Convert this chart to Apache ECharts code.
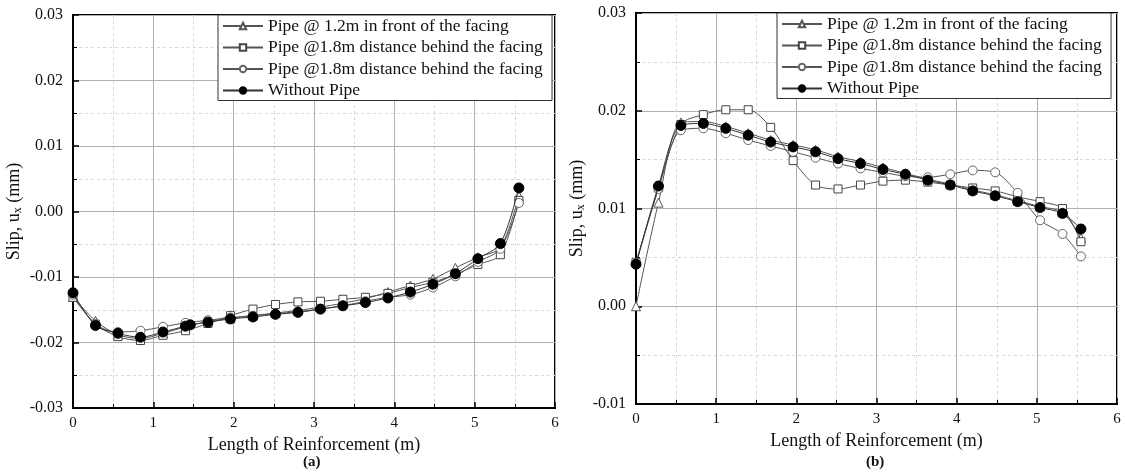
<!DOCTYPE html>
<html>
<head>
<meta charset="utf-8">
<script src="https://cdn.jsdelivr.net/npm/echarts@6/dist/echarts.min.js"></script>
<style>
  html, body { margin: 0; padding: 0; background: #fff; }
  #chart { width: 1125px; height: 473px; }
</style>
</head>
<body>
<div id="chart"></div>
<script>
// Slip along the reinforcement, (a) and (b) panels
const seriesNames = [
  'Pipe @ 1.2m in front of the facing',
  'Pipe @1.8m distance behind the facing',
  'Pipe @1.8m distance behind the facing ',
  'Without Pipe'
];

// distance along reinforcement (m)
const xPos = [0, 0.28, 0.56, 0.84, 1.12, 1.40, 1.68, 1.96, 2.24, 2.52, 2.80, 3.08, 3.36, 3.64, 3.92, 4.20, 4.48, 4.76, 5.04, 5.32, 5.55];
const xPosNoPipeA = [0, 0.28, 0.56, 0.84, 1.12, 1.40, 1.46, 1.68, 1.96, 2.24, 2.52, 2.80, 3.08, 3.36, 3.64, 3.92, 4.20, 4.48, 4.76, 5.04, 5.32, 5.55];

// panel (a) slip (mm)
const aFront12 = [-0.0130, -0.0167, -0.0188, -0.0194, -0.0186, -0.0176, -0.0168, -0.0163, -0.0159, -0.0155, -0.0151, -0.0146, -0.0140, -0.0133, -0.0123, -0.0113, -0.0103, -0.0086, -0.0070, -0.0055, 0.0024];
const aBehind18Sq = [-0.0131, -0.0172, -0.0191, -0.0197, -0.0189, -0.0182, -0.0171, -0.0159, -0.0149, -0.0142, -0.0138, -0.0137, -0.0134, -0.0131, -0.0125, -0.0116, -0.0108, -0.0096, -0.0081, -0.0066, 0.0017];
const aBehind18Ci = [-0.0127, -0.0172, -0.0184, -0.0182, -0.0176, -0.0170, -0.0166, -0.0162, -0.0159, -0.0156, -0.0153, -0.0149, -0.0144, -0.0137, -0.0131, -0.0127, -0.0116, -0.0099, -0.0077, -0.0057, 0.0013];
const aNoPipe = [-0.0124, -0.0174, -0.0186, -0.0192, -0.0184, -0.0175, -0.0173, -0.0169, -0.0164, -0.0161, -0.0157, -0.0154, -0.0149, -0.0144, -0.0139, -0.0132, -0.0123, -0.0111, -0.0095, -0.0072, -0.0049, 0.0036];

// panel (b) slip (mm)
const bFront12 = [0.0000, 0.0106, 0.0188, 0.0189, 0.0184, 0.0177, 0.0170, 0.0165, 0.0160, 0.0153, 0.0148, 0.0142, 0.0136, 0.0130, 0.0125, 0.0119, 0.0114, 0.0108, 0.0102, 0.0096, 0.0070];
const bBehind18Sq = [0.0045, 0.0121, 0.0186, 0.0196, 0.0201, 0.0201, 0.0183, 0.0149, 0.0124, 0.0120, 0.0124, 0.0128, 0.0129, 0.0127, 0.0124, 0.0121, 0.0118, 0.0112, 0.0107, 0.0100, 0.0066];
const bBehind18Ci = [0.0043, 0.0120, 0.0180, 0.0182, 0.0177, 0.0170, 0.0164, 0.0158, 0.0152, 0.0146, 0.0141, 0.0137, 0.0133, 0.0132, 0.0135, 0.0139, 0.0137, 0.0116, 0.0088, 0.0074, 0.0051];
const bNoPipe = [0.0043, 0.0123, 0.0185, 0.0187, 0.0182, 0.0175, 0.0168, 0.0163, 0.0158, 0.0151, 0.0146, 0.0140, 0.0135, 0.0129, 0.0124, 0.0118, 0.0113, 0.0107, 0.0101, 0.0095, 0.0079];

const xTicks = [0, 1, 2, 3, 4, 5, 6];
const panelLabels = ['(a)', '(b)'];
const xName = 'Length of Reinforcement (m)';

const FONT = '"Liberation Serif", "Times New Roman", serif';

function pairs(xs, ys) { return xs.map((x, i) => [x, ys[i]]); }

function fmtY(v) {
  if (Math.abs(v) < 1e-9) return '0.00';
  return v.toFixed(2);
}

function makeX(gridIndex) {
  return {
    type: 'value', gridIndex, min: 0, max: 6, interval: 1,
    name: xName, nameLocation: 'middle', nameGap: 26,
    nameTextStyle: { fontFamily: FONT, fontSize: 18, color: '#111' },
    axisLine: { show: true, onZero: false, lineStyle: { color: '#000', width: 2 } },
    axisTick: { show: true, inside: true, length: 6, lineStyle: { color: '#000', width: 1.5 } },
    minorTick: { show: true, splitNumber: 2, length: 4, lineStyle: { color: '#000', width: 1 } },
    axisLabel: { fontFamily: FONT, fontSize: 15, color: '#111', margin: 8,
      formatter: v => xTicks.includes(v) ? String(v) : '' },
    splitLine: { show: true, lineStyle: { color: '#b0b0b0', width: 1 } },
    minorSplitLine: { show: true, lineStyle: { color: '#d8d8d8', width: 1, type: [3, 3] } }
  };
}

function makeY(gridIndex, min, max, nameGap) {
  return {
    type: 'value', gridIndex, min, max, interval: 0.01,
    name: 'Slip, u{sub|x} (mm)', nameLocation: 'middle', nameGap,
    nameRotate: 90,
    nameTextStyle: { fontFamily: FONT, fontSize: 18, color: '#111',
      rich: { sub: { fontFamily: FONT, fontSize: 12, verticalAlign: 'bottom', padding: [7, 0, 0, 0] } } },
    axisLine: { show: true, onZero: false, lineStyle: { color: '#000', width: 2 } },
    axisTick: { show: true, inside: true, length: 6, lineStyle: { color: '#000', width: 1.5 } },
    minorTick: { show: true, splitNumber: 2, length: 4, lineStyle: { color: '#000', width: 1 } },
    axisLabel: { fontFamily: FONT, fontSize: 16, color: '#111', margin: 10, formatter: fmtY },
    splitLine: { show: true, lineStyle: { color: '#b0b0b0', width: 1 } },
    minorSplitLine: { show: true, lineStyle: { color: '#d8d8d8', width: 1, type: [3, 3] } }
  };
}

const markerStyles = [
  { symbol: 'triangle', symbolSize: 9, itemStyle: { color: '#fff', borderColor: '#555', borderWidth: 1 } },
  { symbol: 'rect', symbolSize: 8, itemStyle: { color: '#fff', borderColor: '#444', borderWidth: 1 } },
  { symbol: 'circle', symbolSize: 9, itemStyle: { color: '#fff', borderColor: '#666', borderWidth: 1 } },
  { symbol: 'circle', symbolSize: 10, itemStyle: { color: '#000', borderColor: '#000', borderWidth: 1 } }
];

function makeSeries(idx, gridIdx, data) {
  const m = markerStyles[idx];
  return {
    type: 'line', name: seriesNames[idx],
    xAxisIndex: gridIdx, yAxisIndex: gridIdx,
    data, smooth: 0.3, showSymbol: true,
    symbol: m.symbol, symbolSize: m.symbolSize,
    itemStyle: m.itemStyle,
    lineStyle: { color: idx === 3 ? '#333' : '#555', width: 1 },
    z: 2 + idx,
    animation: false
  };
}

function makeLegend(left, top) {
  return {
    orient: 'vertical', left, top,
    data: seriesNames,
    backgroundColor: '#fff',
    borderColor: '#333', borderWidth: 1,
    padding: [2, 5, 1, 4],
    itemGap: 3.5, itemWidth: 40, itemHeight: 8,
    textStyle: { fontFamily: FONT, fontSize: 17.5, color: '#111' },
    selectedMode: false
  };
}

const chart = echarts.init(document.getElementById('chart'), null, { renderer: 'canvas' });
chart.setOption({
  backgroundColor: '#fff',
  animation: false,
  title: [
    { text: panelLabels[0], left: 303, top: 455, padding: 0, textStyle: { fontFamily: FONT, fontSize: 15, fontWeight: 'bold', color: '#111' } },
    { text: panelLabels[1], left: 866, top: 455, padding: 0, textStyle: { fontFamily: FONT, fontSize: 15, fontWeight: 'bold', color: '#111' } }
  ],
  legend: [makeLegend(218, 15), makeLegend(777, 13)],
  grid: [
    { left: 73, top: 15, width: 482, height: 393, show: true, borderColor: '#000', borderWidth: 2, backgroundColor: '#fff' },
    { left: 636, top: 13, width: 481, height: 391, show: true, borderColor: '#000', borderWidth: 2, backgroundColor: '#fff' }
  ],
  xAxis: [makeX(0), makeX(1)],
  yAxis: [makeY(0, -0.03, 0.03, 49), makeY(1, -0.01, 0.03, 49)],
  series: [
    makeSeries(0, 0, pairs(xPos, aFront12)),
    makeSeries(1, 0, pairs(xPos, aBehind18Sq)),
    makeSeries(2, 0, pairs(xPos, aBehind18Ci)),
    makeSeries(3, 0, pairs(xPosNoPipeA, aNoPipe)),
    makeSeries(0, 1, pairs(xPos, bFront12)),
    makeSeries(1, 1, pairs(xPos, bBehind18Sq)),
    makeSeries(2, 1, pairs(xPos, bBehind18Ci)),
    makeSeries(3, 1, pairs(xPos, bNoPipe))
  ]
});
</script>
</body>
</html>
